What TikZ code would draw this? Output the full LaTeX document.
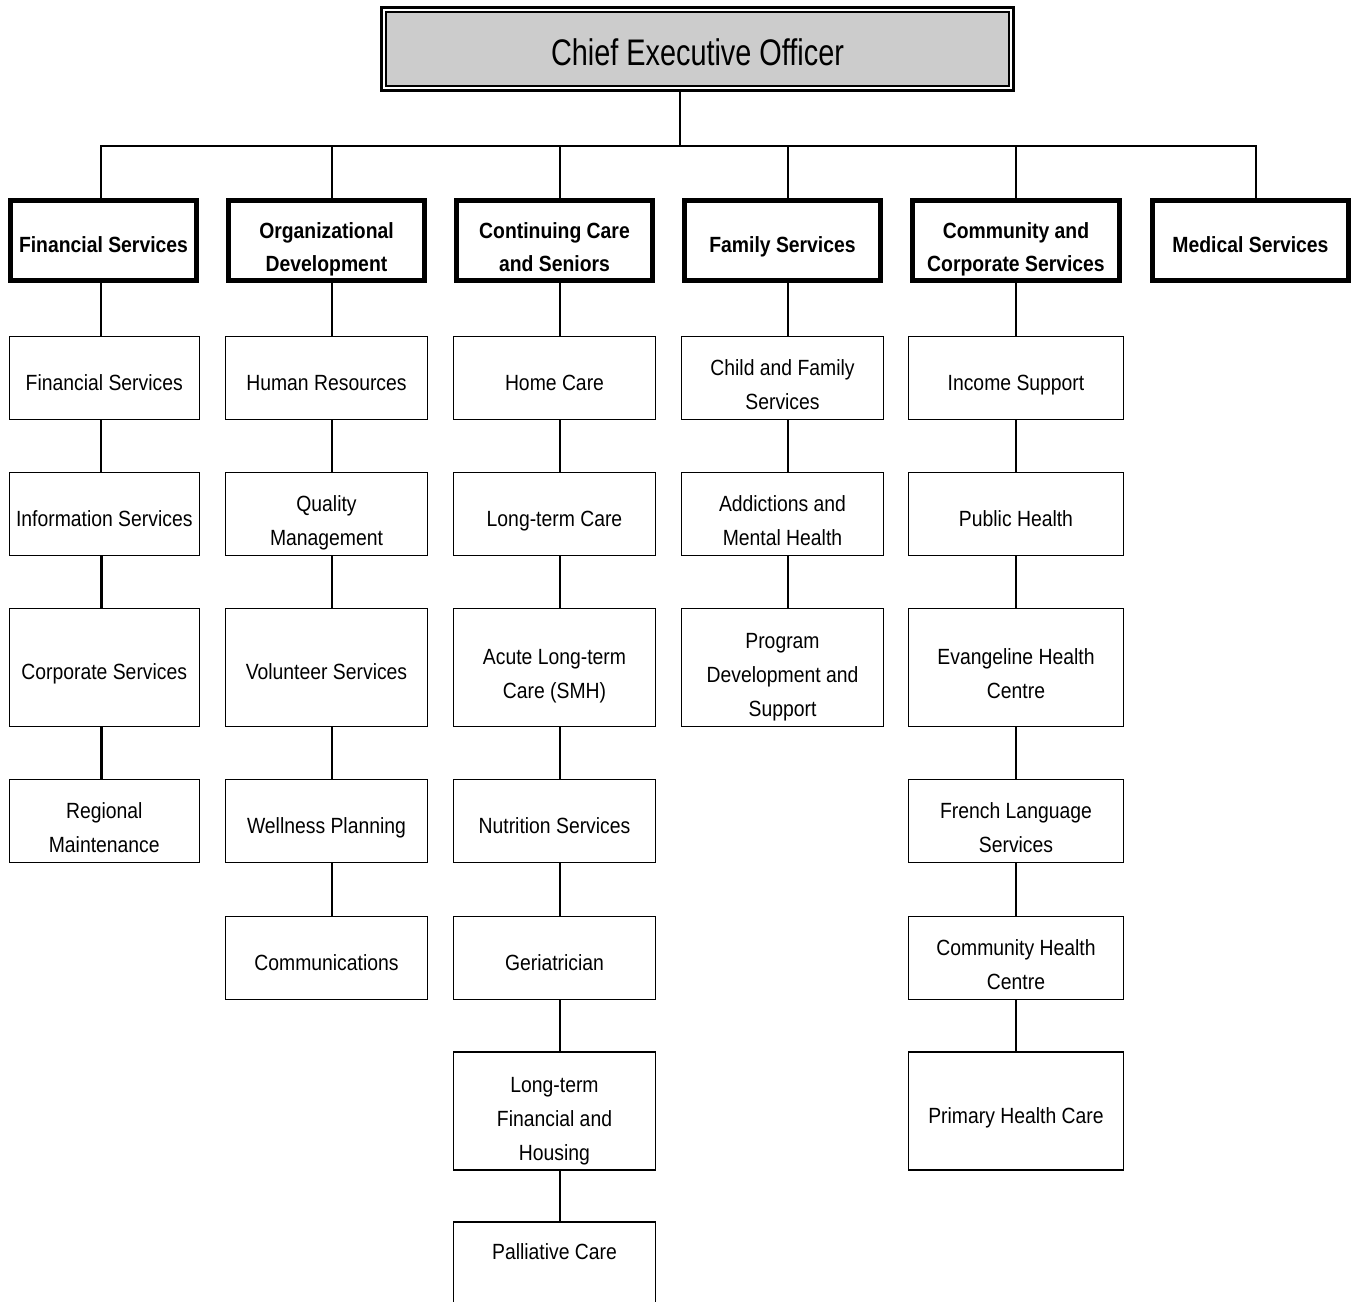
\documentclass[tikz,border=0pt]{standalone}
\usepackage{fontspec}
\setmainfont{Liberation Sans}[FakeStretch=0.88]
\newfontfamily\ceofont{Liberation Sans}[FakeStretch=0.78]
\usetikzlibrary{positioning}
\usetikzlibrary{calc}

\tikzset{
	ceo/.style={draw, line width=3pt, fill=white, inner sep=0pt,
		minimum width=632pt, minimum height=83pt, text height=33pt,
		font=\ceofont\fontsize{37}{40}\selectfont,
		path picture={\draw [line width=2pt, fill=black!20]
			([shift={(4.5pt,-4.5pt)}]path picture bounding box.north west) rectangle
			([shift={(-4.5pt,5pt)}]path picture bounding box.south east);}},
	head/.style={draw, line width=5pt, inner sep=0pt, align=center,
		minimum width=196pt, minimum height=80pt, text height=24pt, text depth=0pt,
		font=\bfseries\fontsize{22}{33}\selectfont},
	unit/.style={draw, line width=1.2pt, inner sep=0pt, align=center,
		minimum width=201.8pt, minimum height=83pt, text height=24pt, text depth=0pt,
		font=\fontsize{22}{34}\selectfont},
	two/.style={text height=62pt},
	three/.style={text height=98pt},
	tall/.style={minimum height=118pt},
	link/.style={line width=1.2pt},
	boldlink/.style={line width=3pt}
}

\begin{document}
\begin{tikzpicture}[x=1pt,y=-1pt]
	\useasboundingbox (0,0) rectangle (1353,1302);

	\node [ceo] (ceo) at (697.5,49) {Chief Executive Officer};

	\node [head, minimum width=186pt] (hfin) at (103.5,240.5) {Financial Services};
	\node [head, two] (horg) at (326.5,240.5) {Organizational\\Development};
	\node [head, two] (hcare) at (554.5,240.5) {Continuing Care\\and Seniors};
	\node [head] (hfam) at (782.5,240.5) {Family Services};
	\node [head, two, minimum width=207pt] (hcomm) at (1016,240.5) {Community and\\Corporate Services};
	\node [head] (hmed) at (1250.5,240.5) {Medical Services};

	\node [unit, minimum width=190.3pt] (fin1) at (104.25,378) {Financial Services};
	\node [unit, minimum width=190.3pt] (fin2) at (104.25,514) {Information Services};
	\node [unit, tall, minimum width=190.3pt] (fin3) at (104.25,667.5) {Corporate Services};
	\node [unit, two, minimum width=190.3pt] (fin4) at (104.25,821) {Regional\\Maintenance};

	\node [unit] (org1) at (326.5,378) {Human Resources};
	\node [unit, two] (org2) at (326.5,514) {Quality\\Management};
	\node [unit, tall] (org3) at (326.5,667.5) {Volunteer Services};
	\node [unit] (org4) at (326.5,821) {Wellness Planning};
	\node [unit] (org5) at (326.5,958) {Communications};

	\node [unit] (care1) at (554.5,378) {Home Care};
	\node [unit] (care2) at (554.5,514) {Long-term Care};
	\node [unit, tall, two] (care3) at (554.5,667.5) {Acute Long-term\\Care (SMH)};
	\node [unit] (care4) at (554.5,821) {Nutrition Services};
	\node [unit] (care5) at (554.5,958) {Geriatrician};
	\node [unit, tall, three] (care6) at (554.5,1111) {Long-term\\Financial and\\Housing};
	\node [unit, tall, text depth=68pt] (care7) at (554.5,1281) {Palliative Care};

	\node [unit, two] (fam1) at (782.5,378) {Child and Family\\Services};
	\node [unit, two] (fam2) at (782.5,514) {Addictions and\\Mental Health};
	\node [unit, tall, three] (fam3) at (782.5,667.5) {Program\\Development and\\Support};

	\node [unit, minimum width=214.8pt] (comm1) at (1016,378) {Income Support};
	\node [unit, minimum width=214.8pt] (comm2) at (1016,514) {Public Health};
	\node [unit, tall, two, minimum width=214.8pt] (comm3) at (1016,667.5) {Evangeline Health\\Centre};
	\node [unit, two, minimum width=214.8pt] (comm4) at (1016,821) {French Language\\Services};
	\node [unit, two, minimum width=214.8pt] (comm5) at (1016,958) {Community Health\\Centre};
	\node [unit, tall, minimum width=214.8pt] (comm6) at (1016,1111) {Primary Health Care};

	\coordinate (top) at (680,146);
	\coordinate (b1) at (101,146);
	\coordinate (b2) at (332,146);
	\coordinate (b3) at (560,146);
	\coordinate (b4) at (788,146);
	\coordinate (b5) at (1016,146);
	\coordinate (b6) at (1256,146);

	\draw [link] (ceo.south -| top) -- (top);
	\draw [link] (hfin.north -| b1) -- (b1) -- (b6) -- (hmed.north -| b6);
	\draw [link] (b2) -- (horg.north -| b2);
	\draw [link] (b3) -- (hcare.north -| b3);
	\draw [link] (b4) -- (hfam.north -| b4);
	\draw [link] (b5) -- (hcomm.north -| b5);

	\draw [link] (hfin.south -| b1) -- (fin1.north -| b1) (fin1.south -| b1) -- (fin2.north -| b1);
	\draw [boldlink] (fin2.south -| b1) -- (fin3.north -| b1) (fin3.south -| b1) -- (fin4.north -| b1);

	\draw [link] (horg.south -| b2) -- (org1.north -| b2) (org1.south -| b2) -- (org2.north -| b2)
		(org2.south -| b2) -- (org3.north -| b2) (org3.south -| b2) -- (org4.north -| b2)
		(org4.south -| b2) -- (org5.north -| b2);

	\draw [link] (hcare.south -| b3) -- (care1.north -| b3) (care1.south -| b3) -- (care2.north -| b3)
		(care2.south -| b3) -- (care3.north -| b3) (care3.south -| b3) -- (care4.north -| b3)
		(care4.south -| b3) -- (care5.north -| b3) (care5.south -| b3) -- (care6.north -| b3)
		(care6.south -| b3) -- (care7.north -| b3);

	\draw [link] (hfam.south -| b4) -- (fam1.north -| b4) (fam1.south -| b4) -- (fam2.north -| b4)
		(fam2.south -| b4) -- (fam3.north -| b4);

	\draw [link] (hcomm.south -| b5) -- (comm1.north -| b5) (comm1.south -| b5) -- (comm2.north -| b5)
		(comm2.south -| b5) -- (comm3.north -| b5) (comm3.south -| b5) -- (comm4.north -| b5)
		(comm4.south -| b5) -- (comm5.north -| b5) (comm5.south -| b5) -- (comm6.north -| b5);
\end{tikzpicture}
\end{document}
